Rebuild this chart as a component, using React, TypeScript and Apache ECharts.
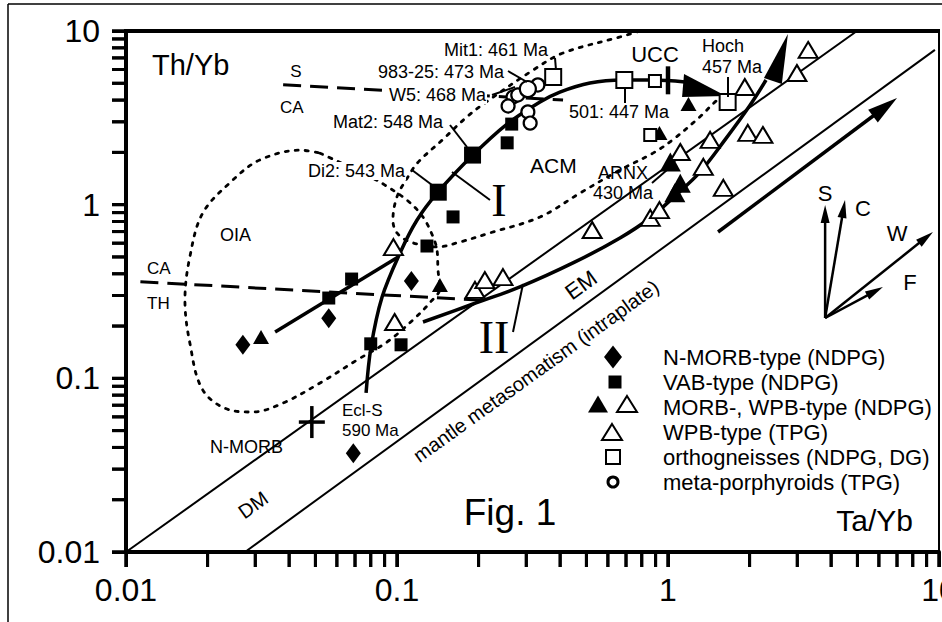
import { useEffect, useRef } from "react";
import * as echarts from "echarts";

// ---------- axis ticks & labels ----------
const xTickValues = [0.01, 0.02, 0.03, 0.04, 0.05, 0.06, 0.07, 0.08, 0.09, 0.1, 0.2, 0.3, 0.4, 0.5, 0.6, 0.7, 0.8, 0.9, 1, 2, 3, 4, 5, 6, 7, 8, 9, 10];
const yTickValues = [0.01, 0.02, 0.03, 0.04, 0.05, 0.06, 0.07, 0.08, 0.09, 0.1, 0.2, 0.3, 0.4, 0.5, 0.6, 0.7, 0.8, 0.9, 1, 2, 3, 4, 5, 6, 7, 8, 9, 10];
const axisLabelValues = [0.01, 0.1, 1, 10];
const axisLabelTexts = ["0.01", "0.1", "1", "10"];

// ---------- reference lines (Ta/Yb, Th/Yb) ----------
const arrayUpper = [[0.01, 0.01], [4.98, 10]];
const arrayLower = [[0.0275, 0.01], [9.66, 7.78]];
const intraplateArrow = [[1.53, 0.696, 7.0, 4.11]];
const vectorArrows = [
  [3.8, 0.2226, 3.8, 0.995],
  [3.8, 0.2226, 4.5, 1.064],
  [3.8, 0.2226, 9.5, 0.696],
  [3.8, 0.2226, 6.21, 0.336],
];
const boundarySCA = [[0.038, 4.9], [0.41, 4.0]];
const boundaryCATH = [[0.0113, 0.36], [0.22, 0.28]];
const trendI = [
  [0.0769, 0.0824], [0.0802, 0.1515], [0.0881, 0.294], [0.1026, 0.527], [0.1186, 0.816],
  [0.1416, 1.18], [0.1905, 1.93], [0.2547, 2.91], [0.337, 3.9], [0.399, 4.45],
  [0.515, 5.02], [0.682, 5.22], [0.881, 5.22], [1.156, 5.09],
];
const trendMorbToI = [[0.0355, 0.185], [0.101, 0.5]];
const trendII = [
  [0.1247, 0.211], [0.1907, 0.268], [0.2843, 0.336], [0.454, 0.468], [0.665, 0.643],
  [0.859, 0.838], [1.06, 1.122], [1.312, 1.54], [1.622, 2.36], [2.01, 3.75], [2.3, 5.22],
];
const fieldOIA = [
  [0.052, 1.98], [0.0815, 1.42], [0.09, 1.3], [0.109, 1.06], [0.1247, 0.849], [0.136, 0.65],
  [0.1405, 0.548], [0.1417, 0.42], [0.144, 0.331], [0.132, 0.272], [0.1146, 0.217],
  [0.092, 0.162], [0.0712, 0.1275], [0.052, 0.094], [0.038, 0.0721], [0.0294, 0.064],
  [0.0242, 0.0657], [0.0192, 0.0857], [0.0172, 0.16], [0.0165, 0.2825], [0.0172, 0.5],
  [0.0192, 0.895], [0.0248, 1.387], [0.0312, 1.81], [0.0439, 2.06], [0.052, 1.98],
];
const fieldACM = [
  [0.788, 10], [0.665, 9.24], [0.41, 7.47], [0.318, 5.96], [0.211, 3.85], [0.181, 3.2],
  [0.147, 2.36], [0.119, 1.74], [0.109, 1.42], [0.1, 1.11], [0.0966, 0.816], [0.1, 0.687],
  [0.112, 0.61], [0.1405, 0.571], [0.171, 0.61], [0.22, 0.687], [0.337, 0.849],
  [0.474, 1.167], [0.665, 1.583], [0.88, 1.98], [1.04, 2.36], [1.31, 3.2], [1.52, 4.0], [1.665, 4.28],
];
const wedgeI = [[1.146, 5.65], [1.127, 4.17], [1.637, 4.22]];
const headII = [[2.77, 9.61], [2.26, 5.36], [2.63, 4.95]];

// ---------- samples ----------
const nMorbType = [[0.027, 0.156], [0.056, 0.222], [0.113, 0.363], [0.069, 0.037]];
const vabSmall = [[0.056, 0.29], [0.068, 0.373], [0.129, 0.578], [0.161, 0.85], [0.08, 0.158], [0.1035, 0.156], [0.265, 2.91], [0.255, 2.27]];
const vabLarge = [[0.142, 1.18], [0.19, 1.93]];
const morbFilled = [[0.0315, 0.173], [0.144, 0.345], [1.19, 3.8], [0.93, 2.59]];
const morbFilledLarge = [[1.02, 1.76], [1.11, 1.33], [1.06, 1.17]];
const wpbHollow = [
  [0.097, 0.57], [0.098, 0.211], [0.194, 0.323], [0.211, 0.368], [0.246, 0.383], [0.525, 0.715],
  [0.86, 0.84], [0.93, 0.93], [1.11, 2.01], [1.43, 2.36], [1.35, 1.65], [1.6, 1.25],
  [1.97, 2.59], [2.24, 2.52], [1.92, 4.76], [2.99, 5.73], [3.29, 7.78],
];
const orthoLarge = [[0.377, 5.43], [0.69, 5.22], [1.66, 3.9]];
const orthoSmall = [[0.895, 5.15], [0.86, 2.52]];
const porphyroid = [[0.331, 4.89], [0.268, 4.17], [0.257, 3.7], [0.304, 3.42], [0.31, 2.95], [0.279, 4.28]];
const porphyroidLarge = [[0.304, 4.63]];
const nMorbRef = [[0.0485, 0.056]];
const uccRef = [[1.0, 5.2]];

const FONT = "'Liberation Sans', Arial, Helvetica, sans-serif";
const SERIF = "'Liberation Serif', 'Times New Roman', serif";

// grid geometry (pixels)
const GRID = { left: 126, top: 31, width: 813, height: 521 };
const LOG_MIN = -2;
const LOG_SPAN = 3;

function txt(text: string, x: number, y: number, size: number, o: any = {}) {
  const align = o.align || "left";
  const style: any = {
    text,
    x: 0,
    y: 0,
    font: `${size}px ${o.family || FONT}`,
    fill: "#000",
    align,
    verticalAlign: "middle",
    textAlign: align,
    textVerticalAlign: "middle",
  };
  if (o.bg) {
    style.backgroundColor = "#fff";
    style.textBackgroundColor = "#fff";
    style.padding = [0, 1];
  }
  return { type: "text", x, y, rotation: o.rot || 0, z: 100, style };
}
function seg(x1: number, y1: number, x2: number, y2: number, w = 2) {
  return { type: "line", z: 99, shape: { x1, y1, x2, y2 }, style: { stroke: "#000", lineWidth: w } };
}
function box(x: number, y: number, width: number, height: number) {
  return { type: "rect", z: 1000, zlevel: 1, shape: { x, y, width, height }, style: { fill: "#000" } };
}

function lineSeries(data: number[][], width: number, extra: any = {}) {
  return {
    type: "line",
    data,
    symbol: "none",
    silent: true,
    lineStyle: { color: "#000", width, ...(extra.lineStyle || {}) },
    smooth: extra.smooth || false,
    z: 2,
  };
}

function scatter(data: number[][], symbol: string, size: any, hollow: boolean, bw = 2) {
  return {
    type: "scatter",
    data,
    symbol,
    symbolSize: size,
    silent: true,
    z: 5,
    itemStyle: hollow
      ? { color: "#fff", borderColor: "#000", borderWidth: bw, opacity: 1 }
      : { color: "#000", opacity: 1 },
  };
}

function arrowSeries(data: number[][], lw: number, hl: number, hw: number) {
  return {
    type: "custom",
    data,
    silent: true,
    z: 4,
    encode: { x: [0, 2], y: [1, 3] },
    renderItem: (_p: any, api: any) => {
      const a = api.coord([api.value(0), api.value(1)]);
      const b = api.coord([api.value(2), api.value(3)]);
      const dx = b[0] - a[0];
      const dy = b[1] - a[1];
      const L = Math.hypot(dx, dy) || 1;
      const ux = dx / L;
      const uy = dy / L;
      const base = [b[0] - ux * hl, b[1] - uy * hl];
      const left = [base[0] - (uy * hw) / 2, base[1] + (ux * hw) / 2];
      const right = [base[0] + (uy * hw) / 2, base[1] - (ux * hw) / 2];
      return {
        type: "group",
        children: [
          { type: "line", shape: { x1: a[0], y1: a[1], x2: base[0] + ux * 3, y2: base[1] + uy * 3 }, style: { stroke: "#000", lineWidth: lw } },
          { type: "polygon", shape: { points: [b, left, right] }, style: { fill: "#000" } },
        ],
      };
    },
  };
}

function polygonSeries(poly: number[][]) {
  return {
    type: "custom",
    data: [poly[0]],
    silent: true,
    z: 4,
    renderItem: (_p: any, api: any) => ({
      type: "polygon",
      shape: { points: poly.map((p) => api.coord(p)) },
      style: { fill: "#000" },
    }),
  };
}

function crossSeries(data: number[][], hw: number, hh: number, lw: number) {
  return {
    type: "custom",
    data,
    silent: true,
    z: 6,
    renderItem: (_p: any, api: any) => {
      const c = api.coord([api.value(0), api.value(1)]);
      const ch: any[] = [
        { type: "line", shape: { x1: c[0], y1: c[1] - hh / 2, x2: c[0], y2: c[1] + hh / 2 }, style: { stroke: "#000", lineWidth: lw } },
      ];
      if (hw > 0)
        ch.push({ type: "line", shape: { x1: c[0] - hw / 2, y1: c[1], x2: c[0] + hw / 2, y2: c[1] }, style: { stroke: "#000", lineWidth: lw } });
      return { type: "group", children: ch };
    },
  };
}

// tick marks as scatter bars sitting just outside the axes
function tickScatter(values: number[], dir: "x" | "y") {
  return {
    type: "scatter",
    data: values.map((v) => (dir === "x" ? [v, 0.01] : [0.01, v])),
    symbol: "rect",
    symbolSize: dir === "x" ? [3, 15] : [14, 3],
    symbolOffset: dir === "x" ? [0, 7.5] : [-7, 0],
    clip: false,
    silent: true,
    z: 50,
    itemStyle: { color: "#000", opacity: 1 },
  };
}

const labelFmt = (v: number) => {
  const i = axisLabelValues.findIndex((l) => Math.abs(Math.log10(l) - Math.log10(v)) < 1e-6);
  return i >= 0 ? axisLabelTexts[i] : "";
};

export default function App() {
  const ref = useRef<HTMLDivElement>(null);
  useEffect(() => {
    document.body.style.margin = "0";
    const chart = echarts.init(ref.current!, null, { renderer: "svg" });
    const dotted = { lineStyle: { type: [3, 7], cap: "round" }, smooth: 0.35 };
    const dashed = { lineStyle: { type: [18, 9] } };

    // log-axis tick marks (same mapping as the grid's log axes)
    const bottom = GRID.top + GRID.height;
    const tickEls: any[] = [];
    xTickValues.forEach((v) => {
      const px = GRID.left + (GRID.width * (Math.log10(v) - LOG_MIN)) / LOG_SPAN;
      tickEls.push(box(px - 1.5, bottom, 3, 15));
    });
    yTickValues.forEach((v) => {
      const py = bottom - (GRID.height * (Math.log10(v) - LOG_MIN)) / LOG_SPAN;
      tickEls.push(box(GRID.left - 14, py - 1.5, 14, 3));
    });

    const graphic: any[] = [
      // outer frame
      seg(8, 4, 8, 622, 1.5),
      seg(8, 4, 942, 4, 1.5),
      seg(124, 31, 940, 31, 4),
      // pointer lines
      seg(555, 58, 556, 70),
      seg(508, 71, 527, 82),
      seg(492, 95, 515, 87),
      seg(450, 125, 467, 147),
      seg(412, 170, 436, 188),
      seg(452, 172, 490, 200),
      seg(513, 332, 523, 284),
      seg(625, 88, 625, 103),
      seg(652, 183, 675, 163),
      seg(728, 77, 728, 97),
      // texts
      txt("Th/Yb", 152, 65, 29),
      txt("S", 296, 71, 17, { align: "center" }),
      txt("CA", 280, 107, 17),
      txt("CA", 147, 268, 17),
      txt("TH", 147, 303, 17),
      txt("OIA", 220, 235, 18),
      txt("Di2: 543 Ma", 307, 171, 18, { bg: true }),
      txt("Mat2: 548 Ma", 332, 122, 18, { bg: true }),
      txt("W5: 468 Ma", 388, 95, 18, { bg: true }),
      txt("983-25: 473 Ma", 377, 72, 18, { bg: true }),
      txt("Mit1: 461 Ma", 443, 50, 18, { bg: true }),
      txt("UCC", 655, 54, 22, { align: "center" }),
      txt("Hoch", 702, 46, 18),
      txt("457 Ma", 702, 67, 18),
      txt("501: 447 Ma", 568, 112, 18, { bg: true }),
      txt("ACM", 530, 165, 21),
      txt("ARNX", 598, 173, 18),
      txt("430 Ma", 593, 193, 18),
      txt("I", 499, 200, 46, { align: "center", family: SERIF }),
      txt("II", 494, 337, 46, { align: "center", family: SERIF }),
      txt("EM", 581, 285, 22, { align: "center", rot: (36 * Math.PI) / 180 }),
      txt("mantle metasomatism (intraplate)", 536, 371, 20, { align: "center", rot: (35.7 * Math.PI) / 180 }),
      txt("N-MORB", 210, 447, 18),
      txt("DM", 253, 505, 20, { align: "center", rot: (35.5 * Math.PI) / 180 }),
      txt("Ecl-S", 342, 410, 17),
      txt("590 Ma", 342, 430, 17),
      txt("Fig. 1", 510, 512, 37, { align: "center" }),
      txt("Ta/Yb", 913, 520, 30, { align: "right" }),
      txt("S", 825, 193, 22, { align: "center" }),
      txt("C", 863, 208, 22, { align: "center" }),
      txt("W", 897, 233, 22, { align: "center" }),
      txt("F", 910, 282, 22, { align: "center" }),
      // legend
      { type: "polygon", z: 100, shape: { points: [[613, 345.5], [622, 357], [613, 368.5], [604, 357]] }, style: { fill: "#000" } },
      { type: "rect", z: 100, shape: { x: 608.5, y: 375.5, width: 13, height: 13 }, style: { fill: "#000" } },
      { type: "polygon", z: 100, shape: { points: [[598, 395.5], [608, 412.5], [588, 412.5]] }, style: { fill: "#000" } },
      { type: "polygon", z: 100, shape: { points: [[627, 396], [637, 412], [617, 412]] }, style: { fill: "#fff", stroke: "#000", lineWidth: 2 } },
      { type: "polygon", z: 100, shape: { points: [[612, 424], [622, 440], [602, 440]] }, style: { fill: "#fff", stroke: "#000", lineWidth: 2 } },
      { type: "rect", z: 100, shape: { x: 606, y: 450, width: 14, height: 14 }, style: { fill: "#fff", stroke: "#000", lineWidth: 2 } },
      { type: "circle", z: 100, shape: { cx: 613, cy: 482, r: 5 }, style: { fill: "#fff", stroke: "#000", lineWidth: 3 } },
      txt("N-MORB-type (NDPG)", 663, 357, 22),
      txt("VAB-type (NDPG)", 663, 382, 22),
      txt("MORB-, WPB-type (NDPG)", 663, 407, 22),
      txt("WPB-type (TPG)", 663, 432, 22),
      txt("orthogneisses (NDPG, DG)", 663, 457, 22),
      txt("meta-porphyroids (TPG)", 663, 482, 22),
      ...tickEls,
    ];

    const axisCommon = (margin: number, len: number) => ({
      type: "log",
      logBase: 10,
      min: 0.01,
      max: 10,
      axisLine: { show: true, lineStyle: { color: "#000", width: 4 } },
      axisTick: { show: true, inside: false, length: len, lineStyle: { color: "#000", width: 3 } },
      minorTick: { show: false },
      splitLine: { show: false },
      axisLabel: {
        formatter: labelFmt,
        fontSize: 32,
        fontFamily: FONT,
        color: "#000",
        margin,
        showMinLabel: true,
        showMaxLabel: true,
        hideOverlap: false,
      },
    });

    chart.setOption({
      animation: false,
      backgroundColor: "#fff",
      grid: {
        ...GRID,
        show: true,
        borderColor: "#000",
        borderWidth: 2,
        backgroundColor: "transparent",
        containLabel: false,
        outerBoundsMode: "none",
      },
      xAxis: axisCommon(22, 15),
      yAxis: axisCommon(26, 14),
      graphic,
      series: [
        lineSeries(arrayUpper, 2),
        lineSeries(arrayLower, 2),
        lineSeries(fieldOIA, 2.8, dotted),
        lineSeries(fieldACM, 2.8, dotted),
        lineSeries(boundarySCA, 3, dashed),
        lineSeries(boundaryCATH, 3, dashed),
        lineSeries(trendI, 3.5, { smooth: 0.35 }),
        lineSeries(trendMorbToI, 3.5),
        lineSeries(trendII, 3.5, { smooth: 0.35 }),
        polygonSeries(wedgeI),
        polygonSeries(headII),
        arrowSeries(intraplateArrow, 3.5, 30, 16),
        arrowSeries(vectorArrows, 2.5, 18, 9),
        scatter(nMorbType, "diamond", [15, 20], false),
        scatter(vabSmall, "rect", 13, false),
        scatter(vabLarge, "rect", 17, false),
        scatter(morbFilled, "triangle", [16, 14], false),
        scatter(morbFilledLarge, "triangle", [21, 19], false),
        scatter(wpbHollow, "triangle", [19, 16], true),
        scatter(orthoLarge, "rect", 16, true),
        scatter(orthoSmall, "rect", 12, true),
        scatter(porphyroid, "circle", 13, true, 2.2),
        scatter(porphyroidLarge, "circle", 16, true, 2.2),
        crossSeries(nMorbRef, 26, 32, 3.5),
        crossSeries(uccRef, 0, 28, 4.5),
        tickScatter(xTickValues, "x"),
        tickScatter(yTickValues, "y"),
      ],
    });

    return () => chart.dispose();
  }, []);
  return <div ref={ref} style={{ width: 942, height: 622, background: "#fff" }} />;
}
